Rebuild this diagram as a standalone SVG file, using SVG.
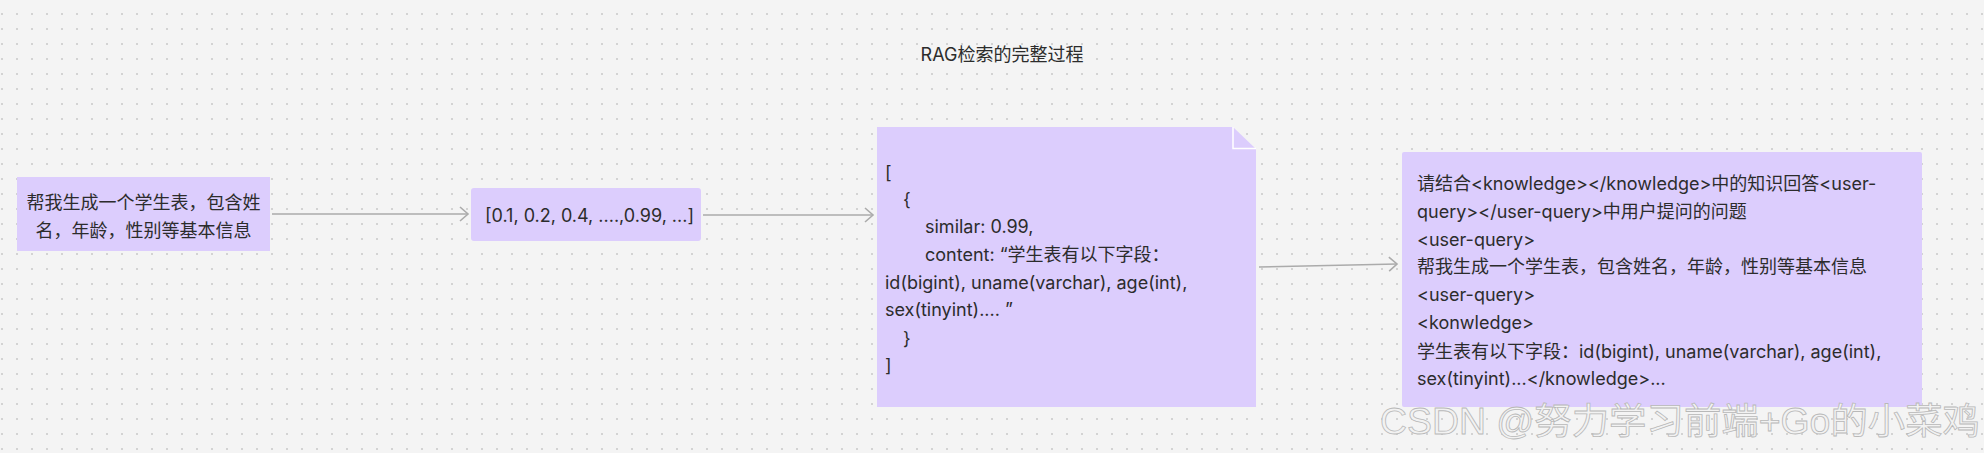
<svg xmlns="http://www.w3.org/2000/svg" width="1984" height="453" viewBox="0 0 1984 453">
<style>
.t{font-family:"Inter","Noto Sans CJK SC",sans-serif;font-size:18px;fill:#2c2c2c}
.box{fill:#dccdfd}
.edge{stroke:#ababab;stroke-width:1.6;fill:none}
.wm{font-family:"Liberation Sans","Noto Sans CJK SC",sans-serif;font-size:36px;fill:#f2f2f2;stroke:#b8b8b8;stroke-width:0.8}
</style>
<defs>
<pattern id="dots" x="0" y="0" width="15" height="15" patternUnits="userSpaceOnUse">
<circle cx="2" cy="14" r="0.9" fill="#c4c4c4"/>
</pattern>
<marker id="arr" markerWidth="12" markerHeight="18" refX="9" refY="8" orient="auto" markerUnits="userSpaceOnUse">
<path d="M1,1 L9,8 L1,15" fill="none" stroke="#ababab" stroke-width="1.6"/>
</marker>
</defs>
<rect width="1984" height="453" fill="#f4f4f4"/>
<rect width="1984" height="453" fill="url(#dots)"/>

<g id="title">
<text class="t" x="1002" y="60.5" text-anchor="middle">RAG检索的完整过程</text>
</g>

<g id="connectors">
<line class="edge" x1="272" y1="214" x2="468" y2="214" marker-end="url(#arr)"/>
<line class="edge" x1="703" y1="215" x2="873" y2="215" marker-end="url(#arr)"/>
<line class="edge" x1="1259" y1="267" x2="1397" y2="264" marker-end="url(#arr)"/>
</g>

<g id="node-question">
<rect class="box" x="17" y="177" width="253" height="74"/>
<text class="t" x="143.5" y="208.5" text-anchor="middle">帮我生成一个学生表，包含姓</text>
<text class="t" x="143.5" y="236.5" text-anchor="middle">名，年龄，性别等基本信息</text>
</g>

<g id="node-vector">
<rect class="box" x="471" y="188" width="230" height="53" rx="3"/>
<text class="t" x="485" y="221.5">[0.1, 0.2, 0.4, ....,0.99, ...]</text>
</g>

<g id="node-result">
<path class="box" d="M877,127 H1233 L1256,149 V407 H877 Z"/>
<path d="M1233,127 V148.5 H1256" fill="none" stroke="#ffffff" stroke-width="1.5"/>
<text class="t" x="885" y="178.5">[</text>
<text class="t" x="903" y="205.5">{</text>
<text class="t" x="925" y="232.5">similar: 0.99,</text>
<text class="t" x="925" y="260.5">content: “学生表有以下字段：</text>
<text class="t" x="885" y="288.5">id(bigint), uname(varchar), age(int),</text>
<text class="t" x="885" y="315.5" xml:space="preserve">sex(tinyint).... ”</text>
<text class="t" x="903" y="344.5">}</text>
<text class="t" x="885" y="371.5">]</text>
</g>

<g id="node-prompt">
<rect class="box" x="1402" y="152" width="520" height="255" rx="2"/>
<text class="t" x="1417" y="189.5">请结合&lt;knowledge&gt;&lt;/knowledge&gt;中的知识回答&lt;user-</text>
<text class="t" x="1417" y="217.5">query&gt;&lt;/user-query&gt;中用户提问的问题</text>
<text class="t" x="1417" y="245.5">&lt;user-query&gt;</text>
<text class="t" x="1417" y="272.5">帮我生成一个学生表，包含姓名，年龄，性别等基本信息</text>
<text class="t" x="1417" y="300.5">&lt;user-query&gt;</text>
<text class="t" x="1417" y="328.5">&lt;konwledge&gt;</text>
<text class="t" x="1417" y="357.5">学生表有以下字段：id(bigint), uname(varchar), age(int),</text>
<text class="t" x="1417" y="384.5">sex(tinyint)...&lt;/knowledge&gt;...</text>
</g>

<g id="watermark">
<text class="wm" x="1380" y="434" textLength="600" lengthAdjust="spacingAndGlyphs">CSDN @努力学习前端+Go的小菜鸡</text>
</g>
</svg>
